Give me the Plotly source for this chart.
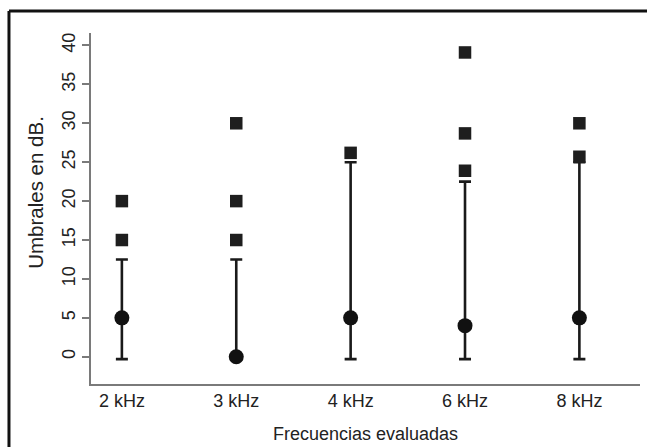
import plotly.graph_objects as go

categories = ["2 kHz", "3 kHz", "4 kHz", "6 kHz", "8 kHz"]
center_vals = [5, 0, 5, 4, 5]
upper_vals = [12.5, 12.5, 25, 22.5, 25]
lower_vals = [-0.3, -0.3, -0.3, -0.3, -0.3]

outlier_cats = ["2 kHz", "2 kHz", "3 kHz", "3 kHz", "3 kHz", "4 kHz",
                "6 kHz", "6 kHz", "6 kHz", "8 kHz", "8 kHz"]
outlier_vals = [15, 20, 15, 20, 30, 26.2, 23.9, 28.7, 39.1, 25.7, 30]

y_ticks = [0, 5, 10, 15, 20, 25, 30, 35, 40]
x_title = "Frecuencias evaluadas"
y_title = "Umbrales en dB."

err_plus = [u - c for u, c in zip(upper_vals, center_vals)]
err_minus = [c - l for c, l in zip(center_vals, lower_vals)]

fig = go.Figure()
fig.add_trace(go.Scatter(
    x=categories, y=center_vals, mode="markers",
    marker=dict(symbol="circle", size=15, color="#111111"),
    error_y=dict(type="data", symmetric=False, array=err_plus, arrayminus=err_minus,
                 color="#1a1a1a", thickness=2.6, width=6),
    showlegend=False, hoverinfo="skip"))
fig.add_trace(go.Scatter(
    x=outlier_cats, y=outlier_vals, mode="markers",
    marker=dict(symbol="square", size=12.5, color="#1e1e1e"),
    showlegend=False, hoverinfo="skip"))

axis_color = "#7a7a7a"
frame = dict(color="#111111", width=3)
fig.update_layout(
    width=647, height=447,
    margin=dict(l=91, r=7, t=33, b=63, autoexpand=False),
    paper_bgcolor="white", plot_bgcolor="white",
    font=dict(family="Liberation Sans, Arial, sans-serif", size=18, color="#222222"),
    xaxis=dict(
        type="category", range=[-0.27, 4.53],
        showline=True, linecolor=axis_color, linewidth=1.5,
        showgrid=False, zeroline=False, ticks="",
        tickfont=dict(size=18, color="#222222"),
    ),
    yaxis=dict(
        range=[-3.5, 41.6],
        tickvals=y_ticks,
        showline=True, linecolor=axis_color, linewidth=1.5,
        showgrid=False, zeroline=False,
        ticks="outside", ticklen=7, tickcolor=axis_color, tickwidth=1.5,
        tickangle=-90, tickfont=dict(size=18, color="#222222"),
    ),
    annotations=[
        dict(text=y_title, xref="paper", yref="paper", x=-0.100, y=0.545,
             xanchor="center", yanchor="middle", textangle=-90, showarrow=False,
             font=dict(size=20.5, color="#222222")),
        dict(text=x_title, xref="paper", yref="paper", x=0.5, y=-0.1425,
             xanchor="center", yanchor="middle", showarrow=False,
             font=dict(size=18, color="#222222")),
    ],
    shapes=[
        dict(type="line", xref="paper", yref="paper",
             x0=-0.1494, x1=-0.1494, y0=-0.5, y1=1.0627, line=frame, layer="below"),
        dict(type="line", xref="paper", yref="paper",
             x0=-0.1494, x1=1.2, y0=1.0627, y1=1.0627, line=frame, layer="below"),
    ],
)

fig.write_html(
    "out.html",
    config={"displayModeBar": False},
    post_script="document.body.style.margin='0';"
                "document.documentElement.style.overflow='hidden';"
                "document.body.style.overflow='hidden';",
)
